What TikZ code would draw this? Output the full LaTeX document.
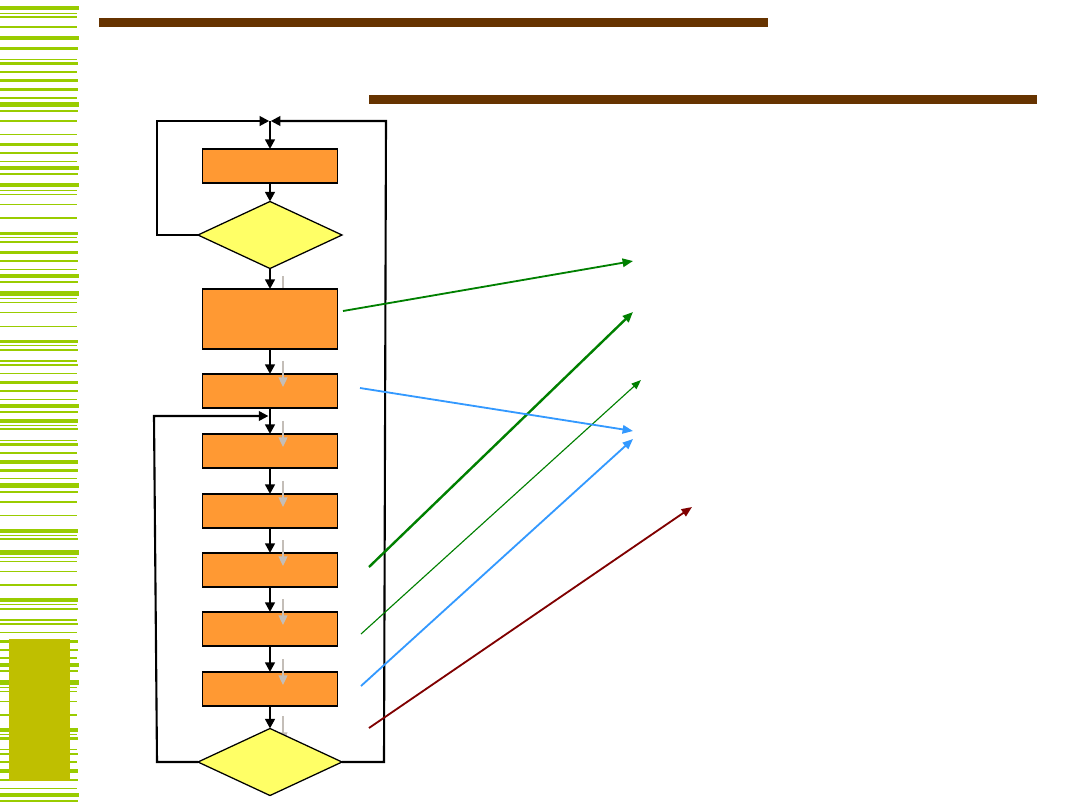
\documentclass[tikz,border=0pt]{standalone}
\usetikzlibrary{shapes.geometric,arrows.meta}
\definecolor{stripe}{HTML}{99CC00}
\definecolor{olivebox}{HTML}{BFBF00}
\definecolor{barbrown}{HTML}{663300}
\definecolor{boxorange}{HTML}{FF9933}
\definecolor{diayellow}{HTML}{FFFF66}
\definecolor{arrgreen}{HTML}{008000}
\definecolor{arrblue}{HTML}{3399FF}
\definecolor{arrred}{HTML}{800000}
\definecolor{ghost}{HTML}{C4BEB8}
\begin{document}
\begin{tikzpicture}[x=0.025cm,y=-0.025cm,
 procbox/.style={draw=black,line width=1.1pt,fill=boxorange,minimum width=3.375cm,minimum height=0.85cm,inner sep=0pt,outer sep=0pt},
 decision/.style={diamond,draw=black,line width=0.9pt,fill=diayellow,minimum width=3.6cm,minimum height=1.675cm,inner sep=0pt,outer sep=0pt},
 flow/.style={line width=2pt,-{Triangle[length=0.24cm,width=0.24cm]}},
 loopline/.style={line width=1.5pt},
 ghostarrow/.style={draw=ghost,line width=1.2pt,-{Triangle[length=0.24cm,width=0.22cm]}},
 colarrow/.style={line width=1.3pt,-{Triangle[length=0.26cm,width=0.21cm]}},
 thinarrow/.style={line width=0.8pt,-{Triangle[length=0.24cm,width=0.18cm]}},
]
\useasboundingbox (0,0) rectangle (1080,810);
\fill[white] (0,0) rectangle (1080,810);

% left decorative stripes
\foreach \y/\h/\w in {6/3.7/79,13/1/77,16/1.5/77,26/1.7/77,36/3.7/79,47/2.7/78,59/1/77,62/2.7/78,71/1.5/77,79/3.3/78,88/2.7/78,97/1.7/77,102/4.7/79,110/1.7/78,120/1.7/77,134/1/77,143/2.7/78,152/1.7/78,161/1/77,166/4/79,173/1.7/78,183/4.3/79,190/1/77,194/1/77,204/1/77,217/1.7/77,231.7/3/78,237/1/77,240.7/2/78,251/2.7/78,260/2/78,269/1/77,274/3.7/79,281/1.7/78,291/4.7/79,298/1/77,302/1/77,312/1/77,326/1/77,340/2.7/78,345/1/77,349/1.7/78,360/1.7/77,364/1.7/78,373/1/77,381/2.7/78,390/1.7/78,399/1/77,404/3.7/79,411/1.7/78,419/3.7/78,425/1/77,428/1.7/78,440/1/77,443/2.7/78,452/1.7/77,460/3.7/78,469/2.7/78,478/1/77,483/4.7/79,491/1.7/78,501/1.7/77,515/1/77,529/3.7/78,535/1/77,538/2/78,550/4.7/79,557/1/77,561/1/77,571/1/77,584/1.7/77,598/4/78,604/1/77,608/1.7/78,619/1.7/77,623/2/78,632/1/77,640/2.7/78,649/1.7/78,657/1.7/77,663/3.7/79,670/1.7/78,680/4.7/79,687/1/77,691/1/77,701/1/77,714/1.7/77,728/3.7/78,734/1/77,737/2.7/78,749/1/77,753/1.7/78,761/1.7/77,769/3.7/78,779/1.7/78,788/1/77,793/4/79,800/2/78}
  \fill[stripe] (0,\y) rectangle (\w,\y+\h);
\fill[olivebox] (9,639) rectangle (70,781);

% title bars
\fill[barbrown] (99,18) rectangle (768,27);
\fill[barbrown] (369,95) rectangle (1037,104);

% grey arrows partly hidden behind shapes (drawn before the shapes)
\draw[ghostarrow] (283,276) -- ++(0,26);
\draw[ghostarrow] (283,716) -- ++(0,26);

% flowchart nodes
\node[procbox] (b1) at (270,166) {};
\node[decision] (d1) at (270,235) {};
\node[procbox,minimum height=1.5cm] (b2) at (270,319) {};
\node[procbox] (b3) at (270,391) {};
\node[procbox] (b4) at (270,451) {};
\node[procbox] (b5) at (270,511) {};
\node[procbox] (b6) at (270,570) {};
\node[procbox] (b7) at (270,629) {};
\node[procbox] (b8) at (270,689) {};
\node[decision] (d2) at (270,762) {};

% grey arrows over the boxes
\foreach \b in {b3,b4,b5,b6,b7,b8}
  \draw[ghostarrow] ([xshift=0.325cm,yshift=0.325cm]\b.north) -- ++(0,26);

% junction and loop corners
\coordinate (j1) at (270,121);
\coordinate (j2) at (270,416);
\coordinate (l1a) at (157,235);
\coordinate (l1b) at (157,121);
\coordinate (l2a) at (157,762);
\coordinate (l2b) at (154,416);
\coordinate (r1a) at (384,762);
\coordinate (r1b) at (386,121);

% main flow
\draw[flow] (j1) -- (b1.north);
\draw[flow] (b1.south) -- (d1.north);
\draw[flow] (d1.south) -- (b2.north);
\draw[flow] (b2.south) -- (b3.north);
\draw[flow] (b3.south) -- (b4.north);
\draw[flow] (b4.south) -- (b5.north);
\draw[flow] (b5.south) -- (b6.north);
\draw[flow] (b6.south) -- (b7.north);
\draw[flow] (b7.south) -- (b8.north);
\draw[flow] (b8.south) -- (d2.north);

% loops
\draw[loopline,-{Triangle[length=0.24cm,width=0.24cm]}] (d1.west) -- (l1a) -- (l1b) -- ([xshift=-0.02cm]j1);
\draw[loopline,-{Triangle[length=0.24cm,width=0.24cm]}] (d2.east) -- (r1a) -- (r1b) -- ([xshift=0.02cm]j1);
\draw[loopline,-{Triangle[length=0.24cm,width=0.24cm]}] (d2.west) -- (l2a) -- (l2b) -- ([xshift=-0.04cm]j2);

% coloured pointers
\coordinate (g1s) at (343,311); \coordinate (g1e) at (633,261);
\coordinate (g2s) at (369,567); \coordinate (g2e) at (633,312);
\coordinate (g3s) at (361,634); \coordinate (g3e) at (641,380);
\coordinate (u1s) at (360,388); \coordinate (u1e) at (633,431);
\coordinate (u2s) at (361,686); \coordinate (u2e) at (633,439);
\coordinate (r1s) at (369,728); \coordinate (r1e) at (692,507);
\draw[colarrow,arrgreen] (g1s) -- (g1e);
\draw[colarrow,arrgreen,line width=1.7pt] (g2s) -- (g2e);
\draw[thinarrow,arrgreen] (g3s) -- (g3e);
\draw[colarrow,arrblue] (u1s) -- (u1e);
\draw[colarrow,arrblue] (u2s) -- (u2e);
\draw[colarrow,arrred] (r1s) -- (r1e);
\end{tikzpicture}
\end{document}
